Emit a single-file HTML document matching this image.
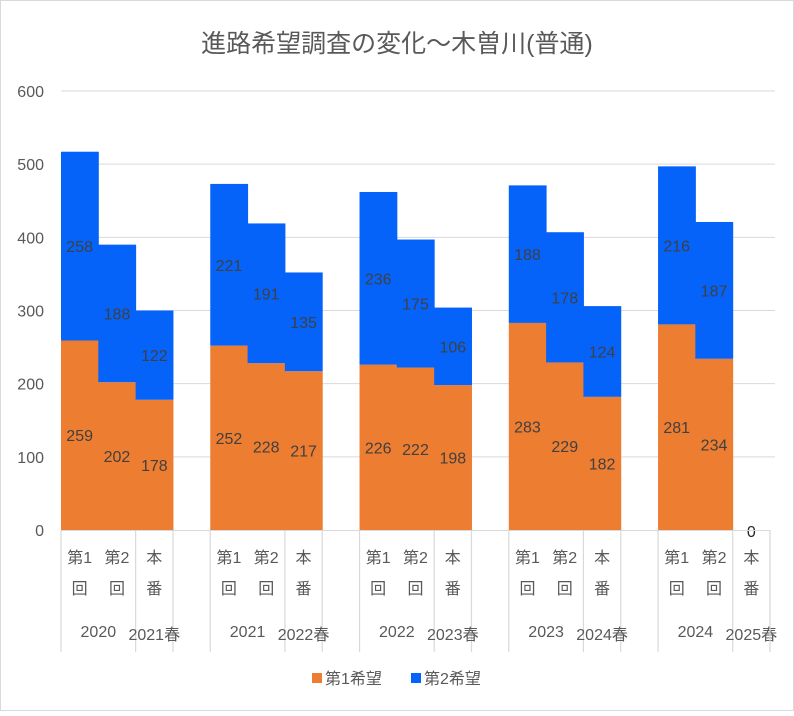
<!DOCTYPE html>
<html><head><meta charset="utf-8"><style>
body{margin:0;background:#fff}
svg text{font-family:"Liberation Sans","Noto Sans CJK JP",sans-serif}
</style></head><body>
<svg id="c" width="794" height="711" xmlns="http://www.w3.org/2000/svg">
<rect x="0.5" y="0.5" width="793" height="710" fill="#fff" stroke="#d9d9d9"/>
<text x="397" y="52" text-anchor="middle" font-size="25" fill="#595959">進路希望調査の変化～木曽川(普通)</text>
<g id="grid"></g><g id="bars"></g><g id="axis"></g>
<g>
<rect x="312" y="673" width="10" height="10" fill="#ed7d31"/>
<text x="325" y="684" font-size="16" fill="#595959">第1希望</text>
<rect x="411" y="673" width="10" height="10" fill="#0563fa"/>
<text x="424" y="684" font-size="16" fill="#595959">第2希望</text>
</g>
</svg>
<script>
const years=['2020','2021','2022','2023','2024'];
const springs=['2021春','2022春','2023春','2024春','2025春'];
const rounds=['第1|回','第2|回','本|番'];
const first=[259,202,178, 252,228,217, 226,222,198, 283,229,182, 281,234,0];
const second=[258,188,122, 221,191,135, 236,175,106, 188,178,124, 216,187,0];
const yTicks=[0,100,200,300,400,500,600];
const NS='http://www.w3.org/2000/svg';
const X0=61,X1=770,Y0=530,Y1=91,slots=19,sw=(X1-X0)/slots;
const y=v=>Y0-(v/600)*(Y0-Y1);
const sx=i=>X0+i*sw;
function mk(t,a,p){const e=document.createElementNS(NS,t);for(const k in a)e.setAttribute(k,a[k]);p.appendChild(e);return e;}
const grid=document.getElementById('grid'),bars=document.getElementById('bars'),axis=document.getElementById('axis');
yTicks.forEach(v=>{
 if(v>0){const l=mk('line',{x1:X0,x2:775,y1:y(v),y2:y(v),stroke:'#d9d9d9','stroke-width':1},grid);
 
 }
 const t=mk('text',{x:44,y:y(v)+6,'text-anchor':'end','font-size':16,fill:'#595959'},axis);t.textContent=v;
 
 
});
first.forEach((v,i)=>{
 const g=Math.floor(i/3),k=i%3,slot=g*4+k,x=sx(slot);
 const r1=mk('rect',{x:x,y:y(v),width:sw+0.5,height:y(0)-y(v),fill:'#ed7d31'},bars);
 
 
 const s=second[i];
 const r2=mk('rect',{x:x,y:y(v+s),width:sw+0.5,height:y(v)-y(v+s),fill:'#0563fa'},bars);
 
 
 if(v+s>0){
  const t1=mk('text',{x:x+sw/2,y:y(v/2)+6,'text-anchor':'middle','font-size':16,fill:'#404040'},bars);t1.textContent=v;
  
  
  const t2=mk('text',{x:x+sw/2,y:y(v+s/2)+6,'text-anchor':'middle','font-size':16,fill:'#404040'},bars);t2.textContent=s;
  
  
 }else{
  const t=mk('text',{x:x+sw/2,y:y(0)+7,'text-anchor':'middle','font-size':16,fill:'#262626'},bars);t.textContent='0';
  
  
 }
 const parts=rounds[k].split('|');
 const a=mk('text',{x:x+sw/2,y:563,'text-anchor':'middle','font-size':16,fill:'#595959'},axis);a.textContent=parts[0];
 
 
 const b=mk('text',{x:x+sw/2,y:594,'text-anchor':'middle','font-size':16,fill:'#595959'},axis);b.textContent=parts[1];
 
 
});
const al=mk('line',{x1:X0,x2:X1,y1:Y0+0.5,y2:Y0+0.5,stroke:'#d9d9d9','stroke-width':1},axis);


years.forEach((yr,g)=>{
 [0,2,3].forEach(o=>{const l=mk('line',{x1:sx(g*4+o),x2:sx(g*4+o),y1:Y0,y2:652,stroke:'#d9d9d9','stroke-width':1.2},axis);
  
  });
 const t=mk('text',{x:sx(g*4+1),y:637,'text-anchor':'middle','font-size':16,fill:'#595959'},axis);t.textContent=yr;
 
 
 const s=mk('text',{x:sx(g*4+2.5),y:640,'text-anchor':'middle','font-size':16,fill:'#595959'},axis);s.textContent=springs[g];
 
 
});
const lend=mk('line',{x1:X1,x2:X1,y1:Y0,y2:652,stroke:'#d9d9d9','stroke-width':1.2},axis);


</script>
</body></html>
